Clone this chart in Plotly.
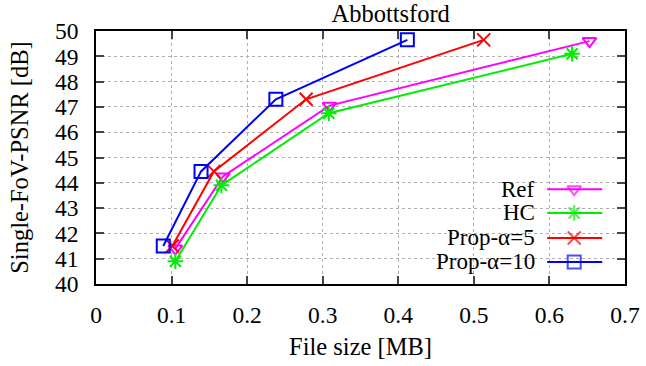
import plotly.graph_objects as go

# ---- data ----
names = ["Ref", "HC", "Prop-α=5", "Prop-α=10"]
ref_x = [0.105, 0.168, 0.309, 0.653]
ref_y = [41.4, 44.25, 47.05, 49.6]
hc_x = [0.105, 0.166, 0.308, 0.630]
hc_y = [40.9, 43.9, 46.75, 49.1]
p5_x = [0.101, 0.156, 0.278, 0.513]
p5_y = [41.5, 44.45, 47.3, 49.65]
p10_x = [0.089, 0.139, 0.238, 0.412]
p10_y = [41.5, 44.45, 47.3, 49.65]
x_ticks = [0, 0.1, 0.2, 0.3, 0.4, 0.5, 0.6, 0.7]
x_tick_text = ["0", "0.1", "0.2", "0.3", "0.4", "0.5", "0.6", "0.7"]
y_ticks = list(range(40, 51))

colors = ["#ff00ff", "#00ee00", "#ff0000", "#0000ff"]
symbols = ["triangle-down-open", "asterisk-open", "x-thin-open", "square-open"]
sizes = [12, 13, 13, 13]
series = [(ref_x, ref_y), (hc_x, hc_y), (p5_x, p5_y), (p10_x, p10_y)]

FONT = "Liberation Serif"
FS = 23.5
FT = 24.5

fig = go.Figure()
for (xs, ys), n, c, s, sz in zip(series, names, colors, symbols, sizes):
    fig.add_trace(go.Scatter(
        x=xs, y=ys, mode="lines+markers", name=n, showlegend=False,
        line=dict(color=c, width=2),
        marker=dict(symbol=s, size=sz, color=c, line=dict(color=c, width=2)),
    ))

# custom gnuplot-style legend (text right-aligned, sample on the right)
leg_y = [0.375, 0.281, 0.182, 0.087]
for n, c, s, sz, ly in zip(names, colors, symbols, sizes, leg_y):
    fig.add_trace(go.Scatter(
        x=[0.853, 0.904, 0.957], y=[ly, ly, ly], xaxis="x2", yaxis="y2",
        mode="lines+markers", showlegend=False, hoverinfo="skip",
        line=dict(color=c, width=2),
        marker=dict(symbol=s, size=[0, sz, 0], color=c, line=dict(color=c, width=2)),
    ))
    fig.add_annotation(x=0.834, y=ly, xref="x2 domain", yref="y2 domain",
                       text=n, showarrow=False, xanchor="right", yanchor="middle",
                       font=dict(family=FONT, size=23, color="black"))

# white box hiding the grid behind the legend
fig.add_shape(type="rect", xref="paper", yref="paper", x0=0.645, x1=0.98, y0=0.0, y1=0.45,
              fillcolor="white", line=dict(width=0), layer="between")

axis_common = dict(
    showline=True, linecolor="black", linewidth=1.5, mirror="ticks",
    ticks="inside", ticklen=8, tickwidth=1.5, tickcolor="#444",
    showgrid=True, gridcolor="#b0b0b0", griddash="dot", gridwidth=1,
    zeroline=False, automargin=False,
    tickfont=dict(family=FONT, size=FS, color="black"),
)

fig.update_layout(
    width=646, height=366,
    font=dict(family=FONT, size=FS, color="black"),
    margin=dict(l=96, r=21, t=31, b=82),
    paper_bgcolor="white", plot_bgcolor="white",
    title=dict(text="Abbottsford", x=0.557, xref="paper", y=0.962, yanchor="middle",
               xanchor="center", font=dict(family=FONT, size=FT, color="black")),
    xaxis=dict(range=[0, 0.7], tickvals=x_ticks, ticktext=x_tick_text,
               ticklabelstandoff=9,
               title=dict(text="File size [MB]", standoff=11,
                          font=dict(family=FONT, size=FT, color="black")),
               **axis_common),
    yaxis=dict(range=[40, 50], tickvals=y_ticks, ticklabelstandoff=11,
               title=dict(text="Single-FoV-PSNR [dB]", standoff=19,
                          font=dict(family=FONT, size=FT, color="black")),
               **axis_common),
    xaxis2=dict(domain=[0, 1], range=[0, 1], visible=False, overlaying="x",
                fixedrange=True),
    yaxis2=dict(domain=[0, 1], range=[0, 1], visible=False, overlaying="y",
                fixedrange=True, anchor="x2"),
    showlegend=False,
)

fig.write_html("out.html", config={"displayModeBar": False},
               post_script="document.body.style.margin='0';document.body.style.overflow='hidden';")
